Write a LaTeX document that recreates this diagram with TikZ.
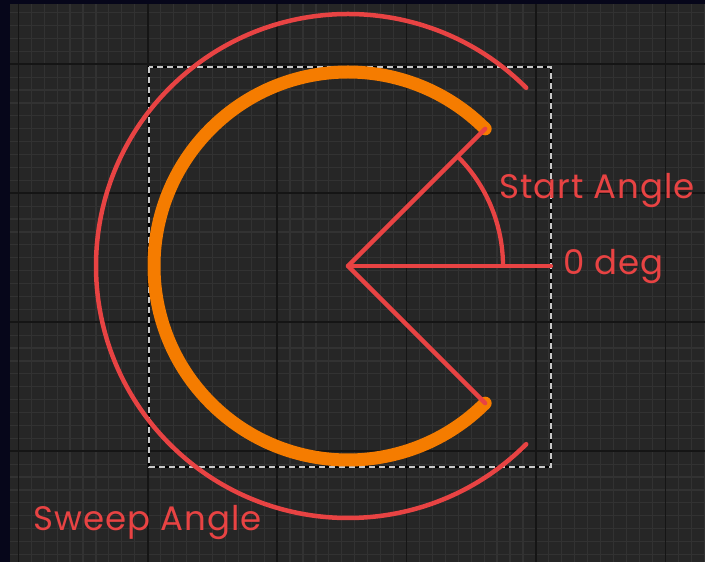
\documentclass[tikz,border=0pt]{standalone}
\usepackage{fontspec}
\setmainfont{Poppins}[LetterSpace=3]
\usetikzlibrary{calc}
\definecolor{bgc}{HTML}{262626}
\definecolor{minorc}{HTML}{323232}
\definecolor{majorc}{HTML}{151515}
\definecolor{navyc}{HTML}{06061A}
\definecolor{redc}{HTML}{E84343}
\definecolor{orangec}{HTML}{F57C00}
\definecolor{dashc}{HTML}{C8C8C8}
\tikzset{
  minorline/.style={draw=minorc, line width=1.2pt},
  majorline/.style={draw=majorc, line width=1.6pt},
  redline/.style={draw=redc, line width=4.3pt, line cap=round},
  labeltext/.style={text=redc, font=\fontsize{34}{38}\selectfont, inner sep=0pt, anchor=base west},
}
\begin{document}
\begin{tikzpicture}[x=1pt,y=1pt]
\useasboundingbox (0,0) rectangle (705,562);
\fill[bgc] (0,0) rectangle (705,562);
% grid
\foreach \i in {-1,...,53} \draw[minorline] ({18.3+12.94*\i},0) -- ++(0,562);
\foreach \i in {-5,...,43} \draw[minorline] (0,{562-64.3-12.9*\i}) -- ++(705,0);
\foreach \i in {0,...,5} \draw[majorline] ({18.3+129.4*\i},0) -- ++(0,562);
\foreach \i in {0,...,3} \draw[majorline] (0,{562-64.3-129*\i}) -- ++(705,0);
% navy border
\fill[navyc] (0,558) rectangle (705,562);
\fill[navyc] (0,0) rectangle (10,562);
% dashed bounding rectangle
\draw[black, line width=2pt] (149,495) rectangle (551,95);
\draw[dashc, line width=2pt, dash pattern=on 6pt off 4pt] (149,495) rectangle (551,95);
% geometry
\coordinate (C) at (348,296);
\coordinate (S) at ($(C)+(45:194)$);
\coordinate (E) at ($(C)+(-45:194)$);
\coordinate (Z) at (551,296);
\coordinate (A0) at ($(C)+(0:155)$);
\coordinate (B0) at ($(C)+(45:252)$);
% orange arc
\draw[orangec, line width=13pt, line cap=round] (S) arc (45:315:194);
% sweep arc
\draw[redc, line width=4.5pt, line cap=round] (B0) arc (45:315:252);
% rays
\draw[redline] (C) -- (S);
\draw[redline] (C) -- (E);
\draw[redline] (C) -- (Z);
\draw[redc, line width=4.3pt] (A0) arc (0:45:155);
% labels
\node[labeltext] (start) at (499,363) {Start Angle};
\node[labeltext] (zero) at (563,287) {0 deg};
\node[labeltext] (sweep) at (33,31) {Sweep Angle};
\end{tikzpicture}
\end{document}
